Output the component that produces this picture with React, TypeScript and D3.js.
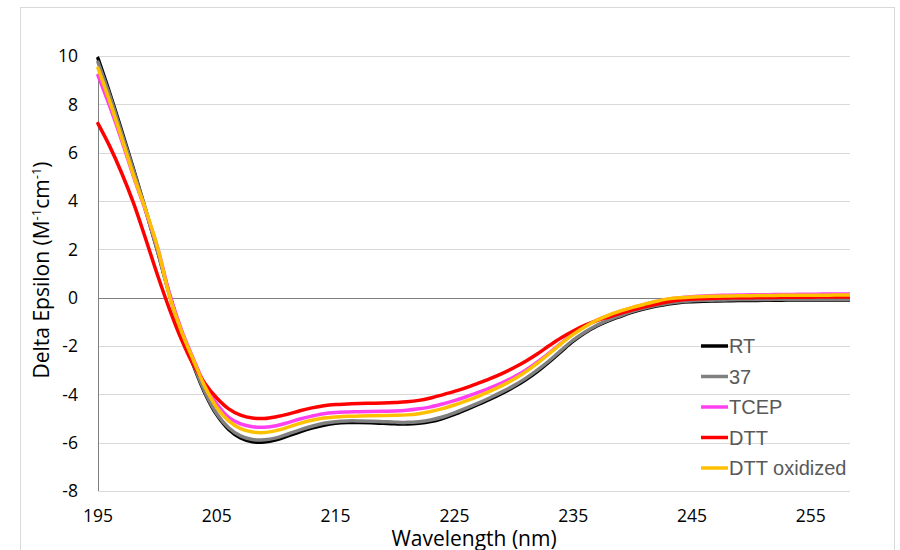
import React from "react";
import * as d3 from "d3";

// wavelengths 195..259 nm, one point per nm
const wavelengths = d3.range(195, 260);

const rt = [9.9, 8.45, 6.9, 5.3, 3.65, 1.95, 0.15, -1.4, -2.75, -3.95,
  -4.85, -5.45, -5.8, -5.96, -5.97, -5.88, -5.72, -5.55, -5.4, -5.28,
  -5.2, -5.17, -5.17, -5.18, -5.2, -5.22, -5.23, -5.2, -5.13, -5.0,
  -4.83, -4.63, -4.42, -4.2, -3.96, -3.7, -3.4, -3.05, -2.65, -2.22,
  -1.8, -1.45, -1.17, -0.95, -0.77, -0.6, -0.46, -0.35, -0.26, -0.2,
  -0.17, -0.15, -0.14, -0.13, -0.12, -0.12, -0.11, -0.11, -0.1, -0.1,
  -0.1, -0.1, -0.1, -0.1, -0.1];

const t37 = [9.75, 8.35, 6.8, 5.25, 3.65, 1.95, 0.15, -1.4, -2.72, -3.9,
  -4.8, -5.38, -5.72, -5.87, -5.88, -5.8, -5.64, -5.47, -5.32, -5.2,
  -5.13, -5.1, -5.1, -5.11, -5.13, -5.15, -5.16, -5.13, -5.06, -4.94,
  -4.77, -4.57, -4.36, -4.14, -3.9, -3.64, -3.34, -2.99, -2.6, -2.17,
  -1.76, -1.42, -1.14, -0.92, -0.74, -0.57, -0.43, -0.32, -0.23, -0.17,
  -0.13, -0.11, -0.1, -0.09, -0.08, -0.08, -0.08, -0.07, -0.07, -0.07,
  -0.07, -0.07, -0.07, -0.07, -0.07];

const tcep = [9.2, 7.9, 6.5, 5.0, 3.6, 2.1, 0.2, -1.3, -2.5, -3.6,
  -4.4, -4.95, -5.22, -5.34, -5.36, -5.3, -5.17, -5.02, -4.9, -4.8,
  -4.75, -4.73, -4.72, -4.71, -4.7, -4.69, -4.66, -4.6, -4.52, -4.4,
  -4.26, -4.1, -3.92, -3.73, -3.52, -3.28, -3.0, -2.66, -2.28, -1.88,
  -1.5, -1.18, -0.93, -0.73, -0.56, -0.41, -0.28, -0.16, -0.06, 0.0,
  0.04, 0.07, 0.09, 0.1, 0.11, 0.12, 0.12, 0.13, 0.13, 0.14,
  0.14, 0.15, 0.15, 0.15, 0.15];

const dtt = [7.2, 6.25, 5.15, 3.9, 2.45, 0.95, -0.45, -1.7, -2.75, -3.55,
  -4.15, -4.6, -4.86, -4.98, -5.0, -4.93, -4.82, -4.68, -4.56, -4.47,
  -4.42, -4.4, -4.38, -4.37, -4.36, -4.34, -4.31, -4.25, -4.15, -4.02,
  -3.88, -3.72, -3.54, -3.35, -3.14, -2.9, -2.63, -2.32, -1.98, -1.66,
  -1.38, -1.14, -0.95, -0.8, -0.65, -0.5, -0.38, -0.27, -0.17, -0.1,
  -0.06, -0.04, -0.02, -0.01, 0.0, 0.0, 0.01, 0.01, 0.02, 0.02,
  0.02, 0.03, 0.03, 0.03, 0.03];

const dttOx = [9.5, 8.1, 6.6, 5.05, 3.65, 2.1, 0.1, -1.36, -2.55, -3.68,
  -4.55, -5.1, -5.42, -5.56, -5.58, -5.5, -5.36, -5.2, -5.07, -4.98,
  -4.94, -4.91, -4.9, -4.89, -4.88, -4.87, -4.85, -4.8, -4.71, -4.59,
  -4.44, -4.27, -4.08, -3.87, -3.64, -3.38, -3.07, -2.71, -2.31, -1.9,
  -1.52, -1.2, -0.93, -0.72, -0.55, -0.4, -0.27, -0.15, -0.05, 0.0,
  0.03, 0.05, 0.06, 0.07, 0.08, 0.08, 0.09, 0.09, 0.1, 0.1,
  0.1, 0.1, 0.11, 0.11, 0.11];

const seriesNames = ["RT", "37", "TCEP", "DTT", "DTT oxidized"];
const seriesColors = ["#000000", "#808080", "#ff40f0", "#ff0000", "#ffc000"];
const seriesValues = [rt, t37, tcep, dtt, dttOx];

const xTicks = [195, 205, 215, 225, 235, 245, 255];
const yTicks = [10, 8, 6, 4, 2, 0, -2, -4, -6, -8];

const App = () => {
  const width = 900;
  const height = 550;
  const plot = { left: 98, right: 850, top: 56, bottom: 491 };

  const x = d3.scaleLinear().domain([195, 258.3]).range([plot.left, plot.right]);
  const y = d3.scaleLinear().domain([-8, 10]).range([plot.bottom, plot.top]);

  const line = d3
    .line<number>()
    .x((d, i) => x(wavelengths[i]))
    .y((d) => y(d))
    .curve(d3.curveCatmullRom.alpha(0.5));

  const tickFont = "'Open Sans', sans-serif";

  return (
    <svg
      width={width}
      height={height}
      style={{ position: "absolute", left: 0, top: 0, background: "#fff" }}
    >
      <defs>
        <clipPath id="plotclip">
          <rect x={plot.left - 4} y={0} width={plot.right - plot.left + 4} height={height} />
        </clipPath>
      </defs>
      <rect x={20.5} y={7.5} width={874} height={560} fill="#fff" stroke="#d9d9d9" />

      {/* gridlines */}
      {yTicks.filter((t) => t !== 0).map((t) => (
        <line key={t} x1={plot.left} x2={plot.right} y1={Math.round(y(t)) + 0.5}
          y2={Math.round(y(t)) + 0.5} stroke="#d9d9d9" strokeWidth={1} />
      ))}
      {/* zero line and y axis */}
      <line x1={plot.left} x2={plot.right} y1={Math.round(y(0)) + 0.5}
        y2={Math.round(y(0)) + 0.5} stroke="#7f7f7f" strokeWidth={1} />
      <line x1={plot.left + 0.5} x2={plot.left + 0.5} y1={plot.top} y2={plot.bottom}
        stroke="#7f7f7f" strokeWidth={1} />

      {/* y tick labels */}
      {yTicks.map((t) => (
        <text key={t} x={78} y={y(t)} dy="0.36em" textAnchor="end"
          fontFamily={tickFont} fontSize={17.5} fill="#000">{t}</text>
      ))}
      {/* x tick labels */}
      {xTicks.map((t) => (
        <text key={t} x={x(t)} y={522} textAnchor="middle"
          fontFamily={tickFont} fontSize={17.5} fill="#000">{t}</text>
      ))}

      {/* axis titles */}
      <text x={474} y={546} textAnchor="middle" fontFamily={tickFont} fontSize={21} fill="#000">
        Wavelength (nm)
      </text>
      <text transform="translate(49,270) rotate(-90)" textAnchor="middle"
        fontFamily={tickFont} fontSize={21} fill="#000">
        Delta Epsilon (M<tspan fontSize={13} dy={-8}>-1</tspan>
        <tspan dy={8}>cm</tspan><tspan fontSize={13} dy={-8}>-1</tspan>
        <tspan dy={8}>)</tspan>
      </text>

      {/* series */}
      <g clipPath="url(#plotclip)">
        {seriesValues.map((vals, i) => (
          <path key={seriesNames[i]} d={line(vals) || ""} fill="none"
            stroke={seriesColors[i]} strokeWidth={3.5} strokeLinejoin="round" strokeLinecap="round" />
        ))}
      </g>

      {/* legend */}
      {seriesNames.map((name, i) => {
        const ly = 346 + i * 30.5;
        return (
          <g key={name}>
            <line x1={701} x2={728} y1={ly} y2={ly} stroke={seriesColors[i]} strokeWidth={3.5} />
            <text x={729} y={ly} dy="0.36em" fontFamily="'Liberation Sans', Arial, sans-serif"
              fontSize={20} fill="#595959">{name}</text>
          </g>
        );
      })}
    </svg>
  );
};

export default App;
